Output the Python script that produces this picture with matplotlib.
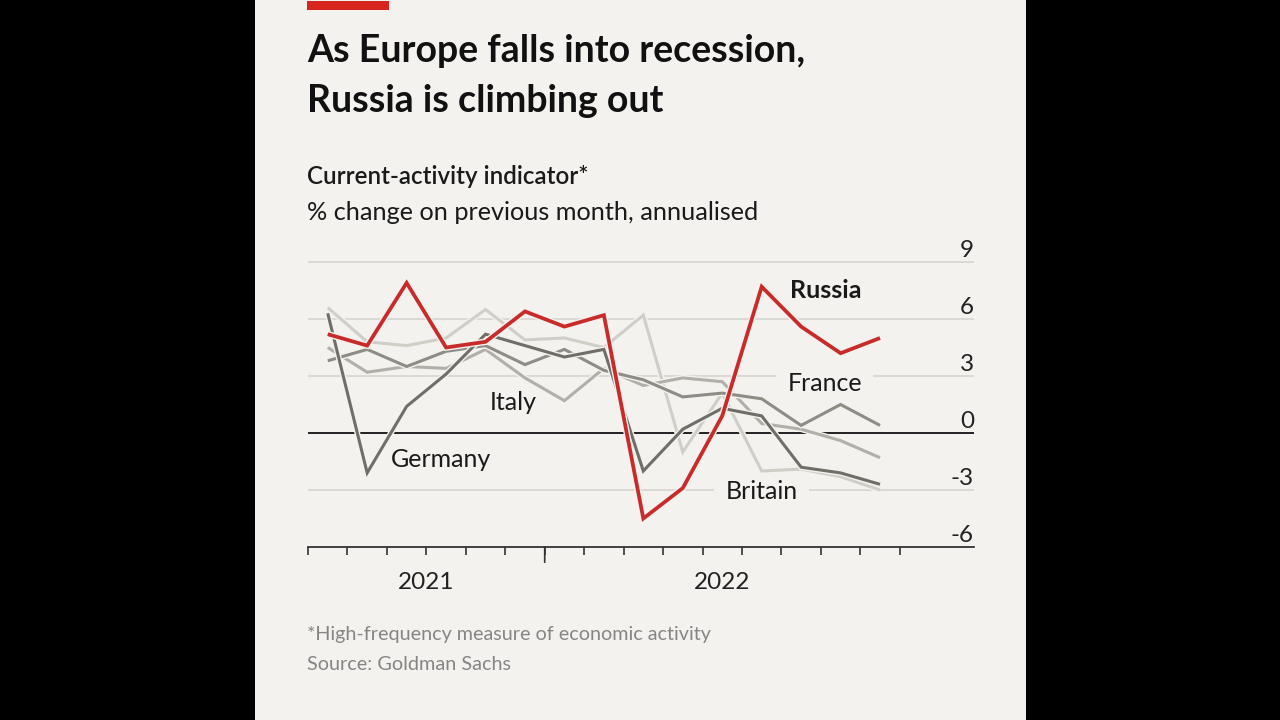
import matplotlib
matplotlib.use("Agg")
import matplotlib.pyplot as plt
import matplotlib.patheffects as pe
from matplotlib.patches import Rectangle

# ---------------- data ----------------
periods = list(range(15))
russia  = [5.2, 4.6, 7.9, 4.5, 4.8, 6.4, 5.6, 6.2, -4.5, -2.9, 0.9, 7.7, 5.6, 4.2, 5.0]
germany = [6.3, -2.1, 1.4, 3.1, 5.2, 4.6, 4.0, 4.4, -2.0, 0.2, 1.3, 0.9, -1.8, -2.1, -2.7]
france  = [3.8, 4.4, 3.5, 4.3, 4.6, 3.6, 4.4, 3.3, 2.8, 1.9, 2.1, 1.8, 0.4, 1.5, 0.4]
italy   = [4.5, 3.2, 3.5, 3.4, 4.4, 2.9, 1.7, 3.4, 2.5, 2.9, 2.7, 0.5, 0.2, -0.4, -1.3]
britain = [6.6, 4.8, 4.6, 5.0, 6.5, 4.9, 5.0, 4.5, 6.2, -1.0, 2.1, -2.0, -1.9, -2.3, -3.0]
yticks = [9, 6, 3, 0, -3, -6]
year_labels = ["2021", "2022"]
year_pos = [2.5, 10.0]
tick_pos = [i - 0.5 for i in range(16)]
long_tick = 5.5

BG = "#f3f2ee"
RED = "#c92a2a"
FONT = "Lato"

W, H = 1280, 720
fig = plt.figure(figsize=(W / 100, H / 100), dpi=100, facecolor="black")

def fx(x):
    return x / W

def fy(y):
    return 1 - y / H

# panel
fig.patches.append(Rectangle((fx(255), 0), fx(1026) - fx(255), 1, transform=fig.transFigure,
                             facecolor=BG, edgecolor="none", zorder=-10))
# red bar
fig.patches.append(Rectangle((fx(307), fy(10)), fx(389) - fx(307), fy(1) - fy(10),
                             transform=fig.transFigure, facecolor="#d7261e", edgecolor="none", zorder=-5))

# titles
fig.text(fx(307), fy(62), "As Europe falls into recession,", fontsize=27, fontweight="bold",
         family=FONT, color="#111111", va="baseline")
fig.text(fx(307), fy(112), "Russia is climbing out", fontsize=27, fontweight="bold",
         family=FONT, color="#111111", va="baseline")
fig.text(fx(307), fy(184), "Current-activity indicator*", fontsize=17.4, fontweight="semibold",
         family=FONT, color="#1a1a1a", va="baseline")
fig.text(fx(307), fy(220), "% change on previous month, annualised", fontsize=18.2,
         family=FONT, color="#1a1a1a", va="baseline")
fig.text(fx(307), fy(640), "*High-frequency measure of economic activity", fontsize=14.2,
         family=FONT, color="#858585", va="baseline")
fig.text(fx(307), fy(670), "Source: Goldman Sachs", fontsize=14.3,
         family=FONT, color="#858585", va="baseline")

# axes
px_per_unit = 39.45
x_left_px, x_right_px = 308, 974
y_top_px, y_bot_px = 252.5, 547
ax = fig.add_axes([fx(x_left_px), fy(y_bot_px), fx(x_right_px) - fx(x_left_px),
                   (y_bot_px - y_top_px) / H])
ax.set_facecolor("none")
ax.set_xlim(-0.5, -0.5 + (x_right_px - x_left_px) / px_per_unit)
ax.set_ylim(-6, 9.5)
for s in ["top", "right", "left"]:
    ax.spines[s].set_visible(False)
ax.spines["bottom"].set_color("#333333")
ax.spines["bottom"].set_linewidth(1.3)
ax.set_yticks([])
ax.set_xticks(tick_pos)
ax.set_xticklabels([])
ax.tick_params(axis="x", direction="out", length=5.5, width=1.2, color="#333333")
ax.annotate("", xy=(long_tick, -6), xycoords="data", xytext=(0, -11), textcoords="offset points",
            arrowprops=dict(arrowstyle="-", color="#333333", lw=1.2, shrinkA=0, shrinkB=0),
            annotation_clip=False)

for v in yticks:
    if v == -6:
        continue
    if v == 0:
        ax.axhline(v, color="#111111", lw=1.3, zorder=2)
    else:
        ax.axhline(v, color="#d8d7d1", lw=1.3, zorder=1)

for v in yticks:
    ax.annotate(str(v), xy=(1, v), xycoords=("axes fraction", "data"), xytext=(0, 1),
                textcoords="offset points", ha="right", va="bottom", fontsize=17.5,
                family=FONT, color="#222222")

for lab, p in zip(year_labels, year_pos):
    ax.annotate(lab, xy=(p, -6), xycoords="data", xytext=(0, -18), textcoords="offset points",
                ha="center", va="top", fontsize=17.5, family=FONT, color="#222222",
                annotation_clip=False)

halo = lambda lw: [pe.Stroke(linewidth=lw + 2.0, foreground=BG), pe.Normal()]
series = [
    (britain, "#cfcec7", 2.2),
    (italy, "#b1afa8", 2.2),
    (france, "#8e8c85", 2.2),
    (germany, "#6f6e67", 2.2),
    (russia, RED, 2.7),
]
for z, (vals, col, lw) in enumerate(series):
    ax.plot(periods, vals, color=col, lw=lw, solid_joinstyle="miter", solid_capstyle="butt",
            zorder=4 + z, path_effects=halo(lw))

lbl = dict(fontsize=18, family=FONT, color="#1a1a1a", ha="center", va="center")
ax.text(12.63, 7.5, "Russia", fontweight="bold", zorder=10, **lbl)
ax.text(12.6, 2.6, "France", zorder=3,
        bbox=dict(boxstyle="square,pad=0.45", fc=BG, ec="none"), **lbl)
ax.text(11.0, -3.1, "Britain", zorder=3,
        bbox=dict(boxstyle="square,pad=0.45", fc=BG, ec="none"), **lbl)
ax.text(4.7, 1.6, "Italy", zorder=3, **lbl)
ax.text(2.88, -1.4, "Germany", zorder=3, **lbl)

fig.savefig("out.png", dpi=100, facecolor="black")
